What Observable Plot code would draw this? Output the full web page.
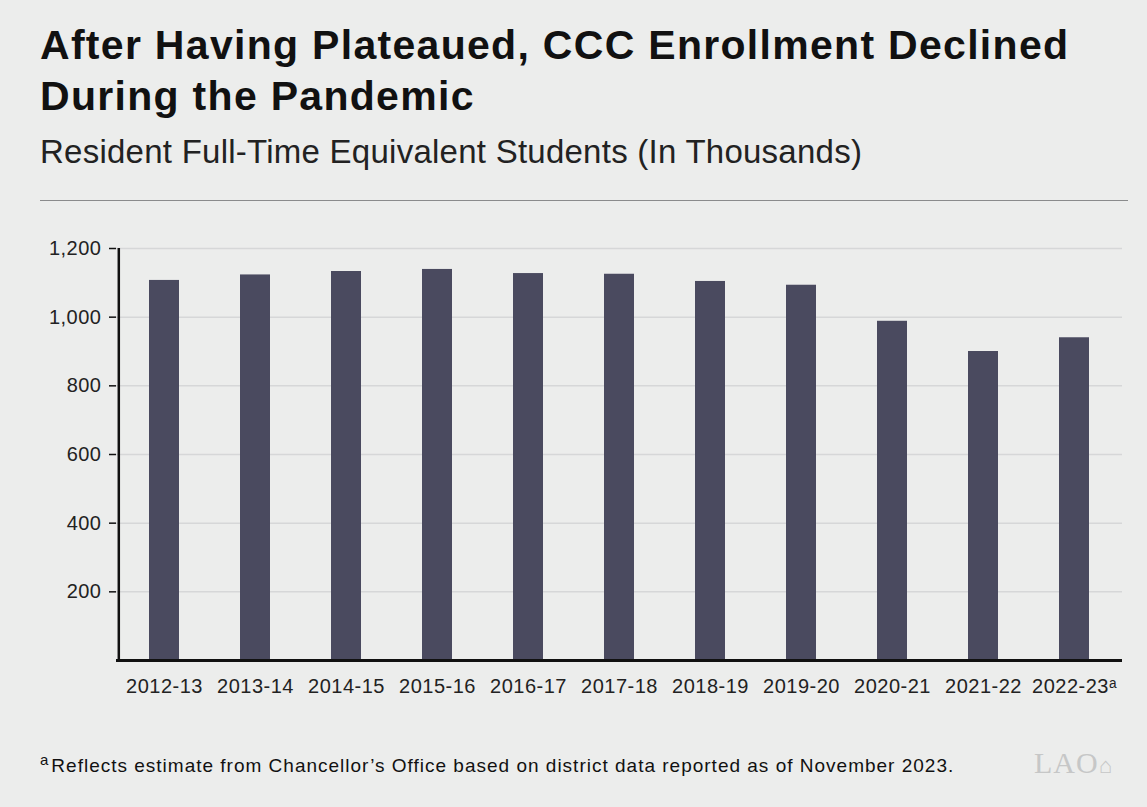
<!DOCTYPE html>
<html>
<head>
<meta charset="utf-8">
<script src="https://cdn.jsdelivr.net/npm/d3@7"></script>
<script src="https://cdn.jsdelivr.net/npm/@observablehq/plot@0.6"></script>
<style>
  html, body { margin: 0; padding: 0; background: #ecedec; }
  #wrap { position: relative; width: 1147px; height: 807px; background: #ecedec; font-family: "Liberation Sans", Arial, sans-serif; color: #111; overflow: hidden; }
  #title { position: absolute; left: 40px; top: 20px; font-weight: bold; font-size: 41px; line-height: 51px; letter-spacing: 1.3px; color: #111; }
  #subtitle { position: absolute; left: 40px; top: 132px; font-size: 33px; line-height: 40px; color: #222; letter-spacing: 0.25px; }
  #rule { position: absolute; left: 40px; top: 200px; width: 1088px; height: 0; border-top: 1.5px solid #8a8b8c; }
  #chart { position: absolute; left: 0; top: 220px; }
  #note { position: absolute; left: 40px; top: 749px; font-size: 19px; line-height: 22px; color: #111; letter-spacing: 1.0px; }
  #note sup { font-size: 15px; vertical-align: 7px; margin-right: 3px; letter-spacing: 0; }
  #logo { position: absolute; left: 1034px; top: 746px; font-family: "Liberation Serif", serif; font-size: 30px; color: #c6c7c7; letter-spacing: 1px; }
</style>
</head>
<body>
<div id="wrap">
  <div id="title">After Having Plateaued, CCC Enrollment Declined<br>During the Pandemic</div>
  <div id="subtitle">Resident Full-Time Equivalent Students (In Thousands)</div>
  <div id="rule"></div>
  <div id="chart"></div>
  <div id="note"><sup>a</sup>Reflects estimate from Chancellor’s Office based on district data reported as of November 2023.</div>
  <div id="logo">LAO<span style="font-size:22px">⌂</span></div>
</div>
<script>
const years = ["2012-13","2013-14","2014-15","2015-16","2016-17","2017-18","2018-19","2019-20","2020-21","2021-22","2022-23"];
const enrollment = [1107, 1123, 1133, 1139, 1127, 1125, 1104, 1093, 988, 900, 940];
const yTicks = [200, 400, 600, 800, 1000, 1200];
const tickLabels = years.map(y => y === "2022-23" ? "2022-23ᵃ" : y);

const data = years.map((y, i) => ({year: y, value: enrollment[i]}));

const chart = Plot.plot({
  width: 1147,
  height: 490,
  marginTop: 28,
  marginBottom: 50,
  marginLeft: 116,
  marginRight: 25,
  style: {background: "transparent", fontFamily: "'Liberation Sans', Arial, sans-serif", fontSize: "20px", color: "#222", letterSpacing: "0.5px"},
  x: {domain: years, paddingInner: 0.67, paddingOuter: 0.335, label: null},
  y: {domain: [0, 1200], label: null},
  marks: [
    Plot.gridY(yTicks, {stroke: "#d6d7d8", strokeOpacity: 1, strokeWidth: 1.5}),
    Plot.barY(data, {x: "year", y: "value", fill: "#4a4a5f"}),
    Plot.axisY({ticks: yTicks, tickSize: 7, tickPadding: 8, tickFormat: d3.format(","), stroke: "#111", strokeWidth: 1.5, fill: "#222", fontSize: 20, label: null}),
    Plot.axisX({tickSize: 0, tickPadding: 18, fill: "#222", fontSize: 20, label: null, tickFormat: d => tickLabels[years.indexOf(d)]}),
    Plot.ruleX([0], {x: () => years[0], dx: -45.7, y1: 0, y2: 1200, stroke: "#111", strokeWidth: 2.5}),
    Plot.ruleY([0], {stroke: "#111", strokeWidth: 3})
  ]
});
document.getElementById("chart").appendChild(chart);
</script>
</body>
</html>
